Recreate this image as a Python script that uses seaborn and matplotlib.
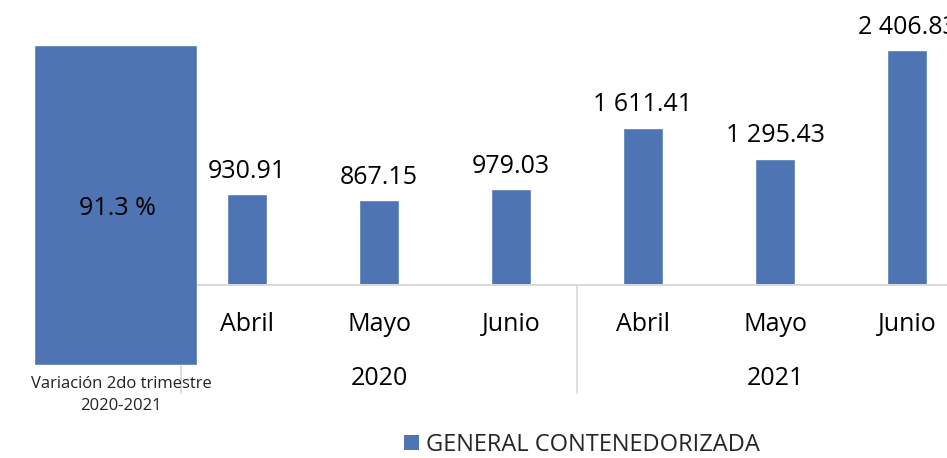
import numpy as np
import pandas as pd
import matplotlib
matplotlib.use("Agg")
import matplotlib.pyplot as plt
from matplotlib.patches import Patch
import matplotlib.transforms as mtransforms
import seaborn as sns

# Monthly values (thousands) by year
months = ["Abril", "Mayo", "Junio", "Abril", "Mayo", "Junio"]
years = ["2020", "2020", "2020", "2021", "2021", "2021"]
values = [930.91, 867.15, 979.03, 1611.41, 1295.43, 2406.83]
year_groups = ["2020", "2021"]

variation_label = "Variación 2do trimestre\n2020-2021"
variation_value = 91.3

series_name = "GENERAL CONTENEDORIZADA"
BLUE = "#4E74B3"
GRID = "#D9D9D9"

sns.set_theme(style="white")
plt.rcParams["font.family"] = ["Open Sans", "DejaVu Sans"]

df = pd.DataFrame({
    "key": [f"{m} {y}" for m, y in zip(months, years)],
    "month": months,
    "year": years,
    "value": values,
})

W, H = 947, 458
fig = plt.figure(figsize=(W / 100, H / 100), dpi=100)

# Main chart axes: category band 132 px wide, baseline at y=285 px
x0, base = 181, 285
ax = fig.add_axes([x0 / W, (H - base) / H, (W - x0) / W, base / H])
sns.barplot(data=df, x="key", y="value", color=BLUE, saturation=1,
            width=0.31, ax=ax, order=list(df["key"]))
band = 132
ax.set_xlim(-0.5, -0.5 + (W - x0) / band)
ax.set_ylim(0, 2919)
ax.set_xlabel("")
ax.set_ylabel("")
ax.set_xticks([])
ax.set_yticks([])
for s in ["top", "right", "left"]:
    ax.spines[s].set_visible(False)
ax.spines["bottom"].set_color(GRID)
ax.spines["bottom"].set_linewidth(1.4)
ax.patch.set_alpha(0)

trans = mtransforms.blended_transform_factory(ax.transData, ax.transAxes)
px = lambda p: (base - p) / base  # pixel row -> axes fraction

# Value labels above bars
for i, v in enumerate(values):
    txt = f"{v:,.2f}".replace(",", " ")
    ax.annotate(txt, xy=(i, v), xytext=(0, 11.8), textcoords="offset points",
                ha="center", va="baseline", fontsize=18, color="black",
                annotation_clip=False)

# Month labels
for i, m in enumerate(months):
    ax.text(i, px(331), m, transform=trans, ha="center", va="baseline",
            fontsize=18, color="black", clip_on=False)

# Year group labels and separators
for g, y in enumerate(year_groups):
    ax.text(g * 3 + 1, px(385), y, transform=trans, ha="center",
            va="baseline", fontsize=18, color="black", clip_on=False)
for xs in [-0.5, 2.5, 5.5]:
    ax.plot([xs, xs], [0, px(393)], transform=trans, color=GRID,
            lw=1.2, clip_on=False)

# Quarter variation block
ax2 = fig.add_axes([34 / W, (H - 365) / H, 163 / W, 320 / H])
var_df = pd.DataFrame({"label": [variation_label], "value": [variation_value]})
sns.barplot(data=var_df, x="label", y="value", color=BLUE, saturation=1,
            width=1.0, ax=ax2)
ax2.set_xlim(-0.5, 0.5)
ax2.set_ylim(0, variation_value)
ax2.axis("off")
ax2.text(0.01, variation_value * (365 - 215) / 320, f"{variation_value} %",
         ha="center", va="baseline", fontsize=18, color="black")
fig.text(121 / W, 1 - 388 / H, variation_label.split("\n")[0], ha="center",
         va="baseline", fontsize=12, color="#222222")
fig.text(121 / W, 1 - 410 / H, variation_label.split("\n")[1], ha="center",
         va="baseline", fontsize=12, color="#222222")

# Legend
fig.legend(handles=[Patch(facecolor=BLUE, edgecolor="none")],
           labels=[series_name], loc="center",
           bbox_to_anchor=(582 / W, 1 - 445 / H), frameon=False,
           fontsize=17, handlelength=0.6, handleheight=0.6,
           handletextpad=0.3, borderpad=0, borderaxespad=0)

fig.savefig("out.png", dpi=100)
